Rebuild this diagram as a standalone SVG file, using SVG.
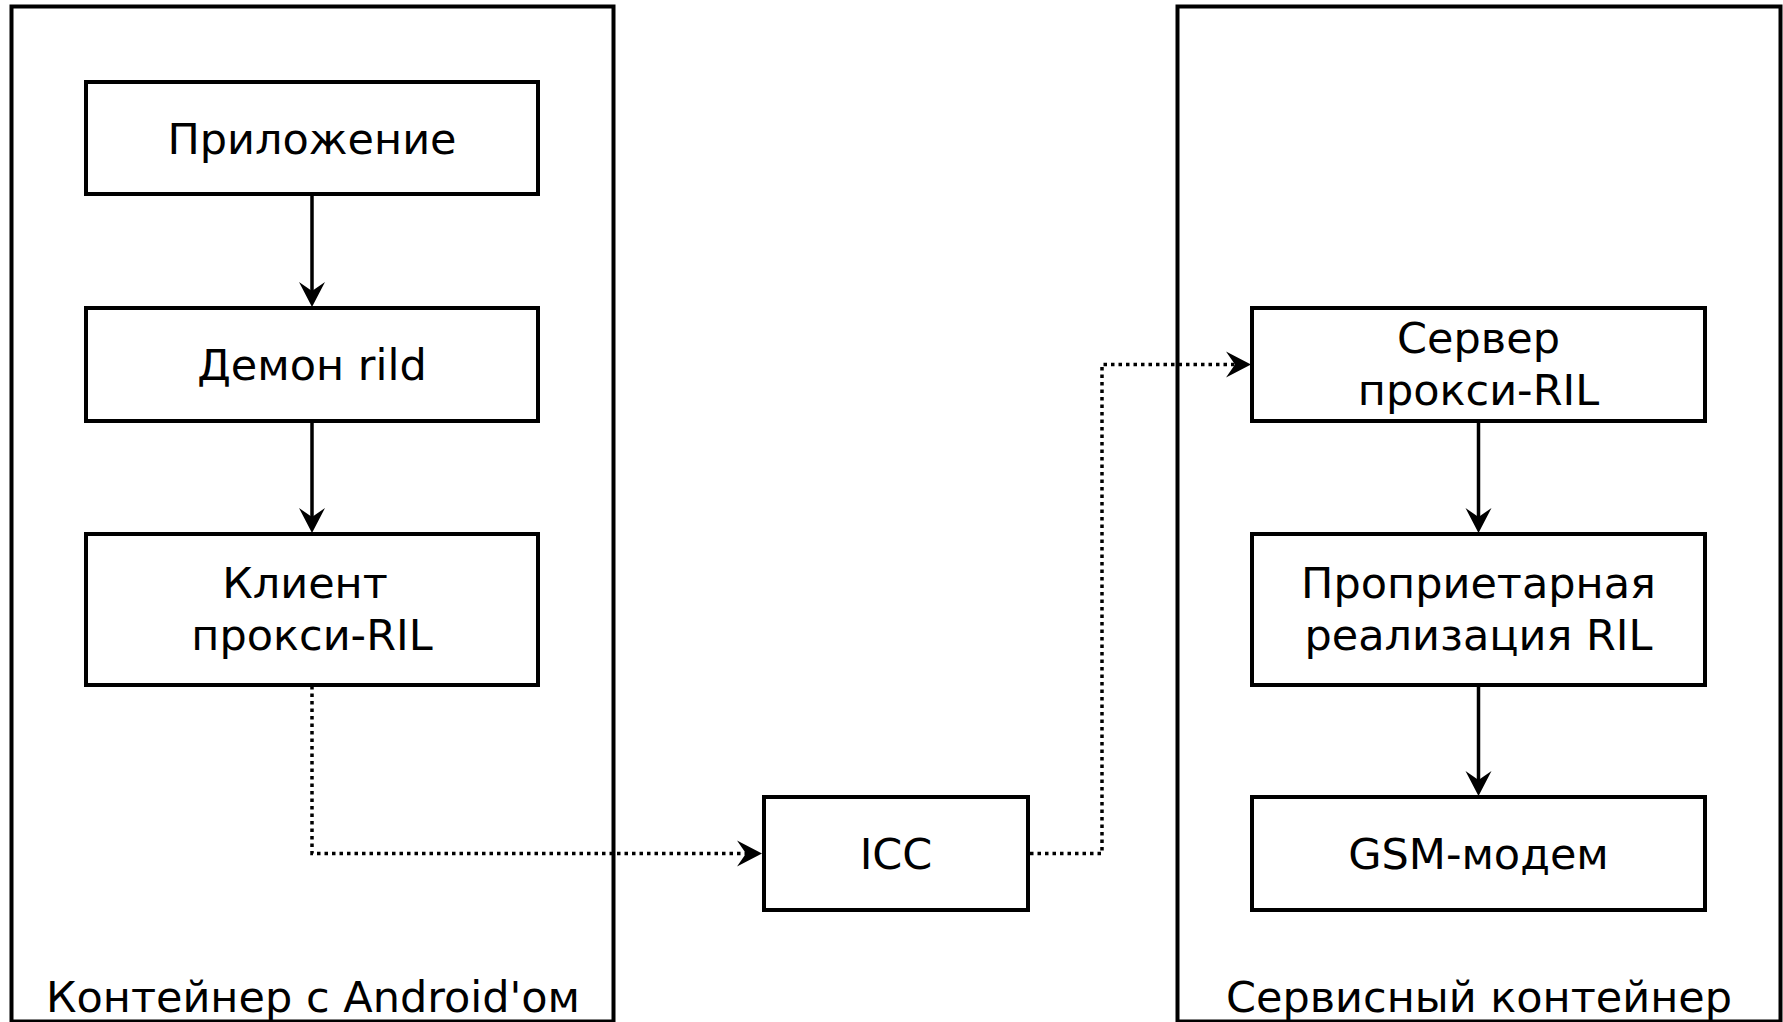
<svg xmlns="http://www.w3.org/2000/svg" width="1783" height="1022" viewBox="0 0 1783 1022">
<style>
.box{fill:#fff;stroke:#000;stroke-width:4}
.cont{fill:none;stroke:#000;stroke-width:4}
.t{font-family:"DejaVu Sans",sans-serif;font-size:43px;fill:#000;text-anchor:middle}
.solid{fill:none;stroke:#000;stroke-width:3.5}
.dot{fill:none;stroke:#000;stroke-width:3.5;stroke-dasharray:3.5 4}
</style>
<defs>
<marker id="arr" markerUnits="userSpaceOnUse" viewBox="-26 -14 28 28" refX="-16" refY="0" markerWidth="28" markerHeight="28" orient="auto">
<path d="M0,0 L-25,-13 L-16,0 L-25,13 Z" fill="#000"/>
</marker>
</defs>
<rect width="1783" height="1022" fill="#fff"/>
<g id="android-container">
<rect class="cont" x="11.5" y="6.5" width="602" height="1015"/>
<text class="t" x="313" y="1012">Контейнер с Android'ом</text>
</g>
<g id="service-container">
<rect class="cont" x="1177.5" y="6.5" width="603" height="1015"/>
<text class="t" x="1479" y="1012">Сервисный контейнер</text>
</g>
<g id="connectors">
<path class="solid" d="M312,194 V291" marker-end="url(#arr)"/>
<path class="solid" d="M312,421 V517" marker-end="url(#arr)"/>
<path class="solid" d="M1478.5,421 V517" marker-end="url(#arr)"/>
<path class="solid" d="M1478.5,685 V780" marker-end="url(#arr)"/>
<path class="dot" d="M312,686 V853.5 H746" marker-end="url(#arr)"/>
<path class="dot" d="M1030,853.5 H1102 V364.5 H1235" marker-end="url(#arr)"/>
</g>
<g id="app">
<rect class="box" x="86" y="82" width="452" height="112"/>
<text class="t" x="312" y="154">Приложение</text>
</g>
<g id="rild">
<rect class="box" x="86" y="308" width="452" height="113"/>
<text class="t" x="312" y="380">Демон rild</text>
</g>
<g id="ril-client">
<rect class="box" x="86" y="534" width="452" height="151"/>
<text class="t" x="305" y="598">Клиент</text>
<text class="t" x="312" y="650">прокси-RIL</text>
</g>
<g id="icc">
<rect class="box" x="764" y="797" width="264" height="113"/>
<text class="t" x="896" y="869">ICC</text>
</g>
<g id="ril-server">
<rect class="box" x="1252" y="308" width="453" height="113"/>
<text class="t" x="1478.5" y="353">Сервер</text>
<text class="t" x="1478.5" y="405">прокси-RIL</text>
</g>
<g id="proprietary-ril">
<rect class="box" x="1252" y="534" width="453" height="151"/>
<text class="t" x="1478.5" y="598">Проприетарная</text>
<text class="t" x="1478.5" y="650">реализация RIL</text>
</g>
<g id="gsm">
<rect class="box" x="1252" y="797" width="453" height="113"/>
<text class="t" x="1478.5" y="869">GSM-модем</text>
</g>
</svg>
